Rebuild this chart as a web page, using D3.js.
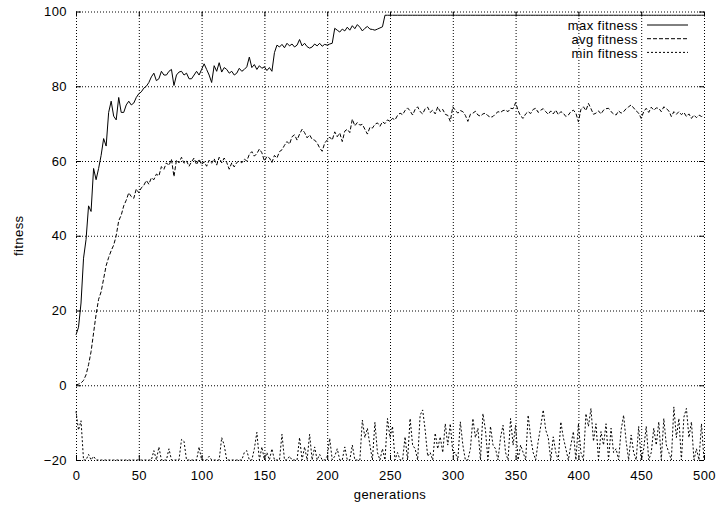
<!DOCTYPE html>
<html><head><meta charset="utf-8">
<script src="https://cdn.jsdelivr.net/npm/d3@7/dist/d3.min.js"></script>
<style>
body{margin:0;background:#fff}
svg{display:block;background:#fff}
text{font-family:"Liberation Sans",Arial,Helvetica,sans-serif;font-size:13px;letter-spacing:0.4px;fill:#000}
</style></head><body>
<svg id="chart" width="720" height="506"></svg>
<script>
// ---- data ----
const xTicks = [0, 50, 100, 150, 200, 250, 300, 350, 400, 450, 500];
const yTicks = [-20, 0, 20, 40, 60, 80, 100];
const generations = d3.range(0, 501, 2); // generation index of each sample
const seriesNames = ["max fitness", "avg fitness", "min fitness"];
const xTitle = "generations";
const yTitle = "fitness";

const maxFitness = [
  13.5, 15.5, 22, 34, 39, 48, 46.5, 58, 55, 58,
  61.5, 66, 64, 73, 76, 72, 71, 77, 73, 73,
  75, 76, 75, 75.5, 77, 78, 78.5, 79.5, 80, 81,
  82.5, 83.5, 81.5, 82, 84, 83, 83, 84, 84.5, 80.2,
  83, 83.8, 84, 83, 83.5, 82, 82, 83, 84, 83,
  84.5, 86, 84.5, 83, 81, 85.5, 84, 86.3, 83.8, 85,
  84.5, 83.5, 84, 83, 83.5, 84.8, 84, 84.5, 85.2, 87.8,
  85, 85.8, 84.5, 85.5, 84.8, 85.2, 84.2, 85, 84, 89,
  91, 90.5, 91.2, 90.3, 91.5, 90.8, 91.3, 90.5, 91, 92.5,
  90.8, 91.5, 90.6, 90.2, 90.5, 91.3, 90.8, 91.5, 90.7, 91.2,
  91, 91.3, 91.5, 95.5, 95, 94.5, 95.3, 94.8, 95.8, 95,
  96.2, 95.4, 96.5, 95.8, 94.8, 95.5, 96, 95.3, 95.2, 95,
  95.3, 95.6, 95.9, 99, 99, 99, 99, 99, 99, 99,
  99, 99, 99, 99, 99, 99, 99, 99, 99, 99,
  99, 99, 99, 99, 99, 99, 99, 99, 99, 99,
  99, 99, 99, 99, 99, 99, 99, 99, 99, 99,
  99, 99, 99, 99, 99, 99, 99, 99, 99, 99,
  99, 99, 99, 99, 99, 99, 99, 99, 99, 99,
  99, 99, 99, 99, 99, 99, 99, 99, 99, 99,
  99, 99, 99, 99, 99, 99, 99, 99, 99, 99,
  99, 99, 99, 99, 99, 99, 99, 99, 99, 99,
  99, 99, 99, 99, 99, 99, 99, 99, 99, 99,
  99, 99, 99, 99, 99, 99, 99, 99, 99, 99,
  99, 99, 99, 99, 99, 99, 99, 99, 99, 99,
  99, 99, 99, 99, 99, 99, 99, 99, 99, 99,
  99
];

const avgFitness = [
  0, 0.3, 0.6, 1.3, 2.8, 5.5, 9, 14, 19, 23,
  25, 28.5, 32, 34.2, 36, 37.5, 40, 44, 45.5, 48,
  49.5, 51.5, 50.5, 50, 52.5, 51.5, 52.8, 53.5, 54.8, 53.8,
  55.5, 55, 56.5, 56, 58.5, 57.8, 59.5, 58.8, 60.5, 55.8,
  60.3, 59.5, 61, 59.4, 60, 58.6, 59.8, 60.8, 59, 60.5,
  59, 59.8, 58.6, 60.2, 59.4, 60.6, 58.9, 61, 59.5, 60.8,
  59.6, 57.8, 59.5, 58.4, 59.6, 60, 59.5, 60.5, 60, 61.8,
  62.5, 61.3, 62, 63.2, 62.2, 60, 61.2, 60.8, 59.6, 61.5,
  60.8, 62.5, 63, 64.2, 65.2, 64.5, 66.5, 67, 65.6, 67.2,
  68.5, 67.6, 66.2, 67, 65.8, 65.6, 64.8, 63.5, 62.6, 64.8,
  65.6, 66.4, 65.6, 67.8, 66.5, 67.5, 65.2, 68, 68.5, 67.6,
  71.2, 69.4, 70.3, 69.6, 69.8, 68.5, 67.2, 69, 68.8, 69.8,
  70.2, 69.3, 70.5, 70, 71, 70.6, 71.4, 71, 72.2, 72.8,
  72.4, 73.5, 74.2, 73.4, 72.3, 73.8, 74.5, 73.2, 72.6, 74,
  74.4, 73, 73.6, 72.6, 74.5, 73.2, 73.8, 72.5, 72.2, 70.6,
  74.5, 73.6, 72.8, 73.5, 73.2, 72.2, 70.6, 72.5, 72.8, 73.3,
  72.3, 72, 72.6, 72.8, 72.1, 71.7, 71.9, 72.6, 73.2, 73,
  73.5, 73.6, 73.2, 74.1, 74, 75.6, 73.5, 72, 71.4, 72.6,
  73.2, 72.7, 73.8, 74.1, 73, 73.6, 74, 73.2, 72.5, 73.4,
  72.6, 73.6, 72.4, 73.2, 72.8, 71.9, 72.3, 73.2, 73.6, 72.8,
  70.5, 73.8, 74.5, 73.5, 75.4, 74, 72.5, 72.8, 73.4, 72.6,
  73.6, 74, 74.1, 73.2, 72.6, 72.3, 73.4, 72.8, 73.2, 74,
  74.5, 75, 74.2, 73.4, 72.8, 71.4, 73.2, 74.1, 73, 74.4,
  73.6, 74.2, 74.1, 73.2, 74.5, 74, 73.4, 71.9, 73.2, 72.5,
  73.2, 72.4, 73, 71.9, 72.6, 71.4, 72.3, 71.6, 72.3, 71.9,
  72.1
];

const minFitness = [
  -7, -12, -9.5, -20, -20, -18.5, -20, -19, -20, -20,
  -20, -20, -20, -20, -20, -20, -20, -20, -20, -20,
  -20, -20, -20, -20, -20, -20, -20, -20, -20, -20,
  -20, -17.5, -20, -16.5, -20, -20, -20, -17, -20, -20,
  -20, -20, -14.5, -15, -20, -20, -20, -20, -20, -16.5,
  -20, -20, -20, -19, -20, -20, -20, -20, -14, -16,
  -20, -20, -20, -20, -20, -20, -20, -18, -17.5, -20,
  -20, -17, -12.6, -20, -16.5, -20, -18, -20, -17, -20,
  -20, -20, -13.1, -20, -20, -19, -20, -20, -20, -14,
  -20, -16.5, -20, -13.1, -20, -16.5, -20, -18.5, -20, -20,
  -19, -14.2, -20, -19, -17, -20, -20, -16.5, -20, -20,
  -16, -20, -20, -20, -9.3, -14, -11.5, -16, -20, -9.9,
  -18, -20, -17, -20, -8.9, -14, -11, -20, -18, -20,
  -20, -13.8, -20, -8.9, -16, -17, -20, -8, -6.6, -12,
  -19, -18, -20, -12.8, -17, -13.8, -18, -10.3, -16, -10.3,
  -18, -18, -20, -9.8, -16, -20, -20, -17, -8.9, -14,
  -11.5, -20, -7.6, -12, -20, -11, -16, -17, -20, -14,
  -10.7, -18, -20, -8.9, -16, -10.7, -20, -16, -18, -20,
  -8, -14, -18, -20, -15, -11, -6.6, -12, -14, -20,
  -13.8, -18, -20, -9.8, -14, -17, -20, -16, -12.4, -20,
  -10.3, -18, -20, -7.6, -11, -6.2, -15, -10.3, -20, -12.4,
  -16, -10.3, -20, -11.5, -18, -17, -20, -12, -8, -15,
  -20, -13.3, -18, -20, -11, -20, -17, -11, -20, -18,
  -11.5, -16, -9.8, -20, -8.9, -16, -18, -20, -5.8, -14,
  -8.9, -20, -8.5, -6.2, -14, -9.8, -20, -17, -20, -10.3,
  -20
];

// ---- layout ----
const L = 76, R = 704, T = 11.5, B = 460;
const x = d3.scaleLinear().domain([0, 500]).range([L, R]);
const y = d3.scaleLinear().domain([-20, 100]).range([B, T]);
const svg = d3.select("#chart");

function styleGrid(g) {
  g.select(".domain").remove();
  g.selectAll("line").attr("stroke", "#000").attr("stroke-width", 1).attr("stroke-dasharray", "1,2");
  g.selectAll("text").remove();
}
function styleTicks(g) {
  g.select(".domain").remove();
  g.selectAll("line").attr("stroke", "#000").attr("stroke-width", 1);
  g.attr("font-family", null).attr("font-size", null);
}

// grid
svg.append("g").attr("transform", `translate(0,${B})`)
  .call(d3.axisBottom(x).tickValues(xTicks).tickSize(-(B - T)).tickFormat(""))
  .call(styleGrid);
svg.append("g").attr("transform", `translate(${L},0)`)
  .call(d3.axisLeft(y).tickValues(yTicks).tickSize(-(R - L)).tickFormat(""))
  .call(styleGrid);

// tick marks (mirrored, inward) and labels
svg.append("g").attr("transform", `translate(0,${B})`)
  .call(d3.axisBottom(x).tickValues(xTicks).tickSize(-5).tickPadding(11))
  .call(styleTicks);
svg.append("g").attr("transform", `translate(0,${T})`)
  .call(d3.axisTop(x).tickValues(xTicks).tickSize(-5).tickFormat(""))
  .call(styleTicks);
svg.append("g").attr("transform", `translate(${L},0)`)
  .call(d3.axisLeft(y).tickValues(yTicks).tickSize(-5).tickPadding(9))
  .call(styleTicks);
svg.append("g").attr("transform", `translate(${R},0)`)
  .call(d3.axisRight(y).tickValues(yTicks).tickSize(-5).tickFormat(""))
  .call(styleTicks);

// series
const dashes = ["none", "4,2", "2,2"];
const allSeries = [maxFitness, avgFitness, minFitness];
const line = d3.line().x((d, i) => x(generations[i])).y(d => y(d));
allSeries.forEach((vals, k) => {
  svg.append("path").datum(vals)
    .attr("d", line)
    .attr("fill", "none")
    .attr("stroke", "#000")
    .attr("stroke-width", 1)
    .attr("stroke-dasharray", dashes[k]);
});

// legend
const leg = svg.append("g");
seriesNames.forEach((name, k) => {
  const yy = 25 + k * 13.7;
  leg.append("text").attr("x", 638).attr("y", yy + 5.3).attr("text-anchor", "end").text(name);
  leg.append("line").attr("x1", 647).attr("x2", 688).attr("y1", yy).attr("y2", yy)
    .attr("stroke", "#000").attr("stroke-width", 1).attr("stroke-dasharray", dashes[k]);
});

// axis titles
svg.append("text").attr("x", (L + R) / 2).attr("y", 499).attr("text-anchor", "middle").text(xTitle);
svg.append("text").attr("transform", `translate(23,${(T + B) / 2}) rotate(-90)`)
  .attr("text-anchor", "middle").text(yTitle);
</script>
</body></html>
